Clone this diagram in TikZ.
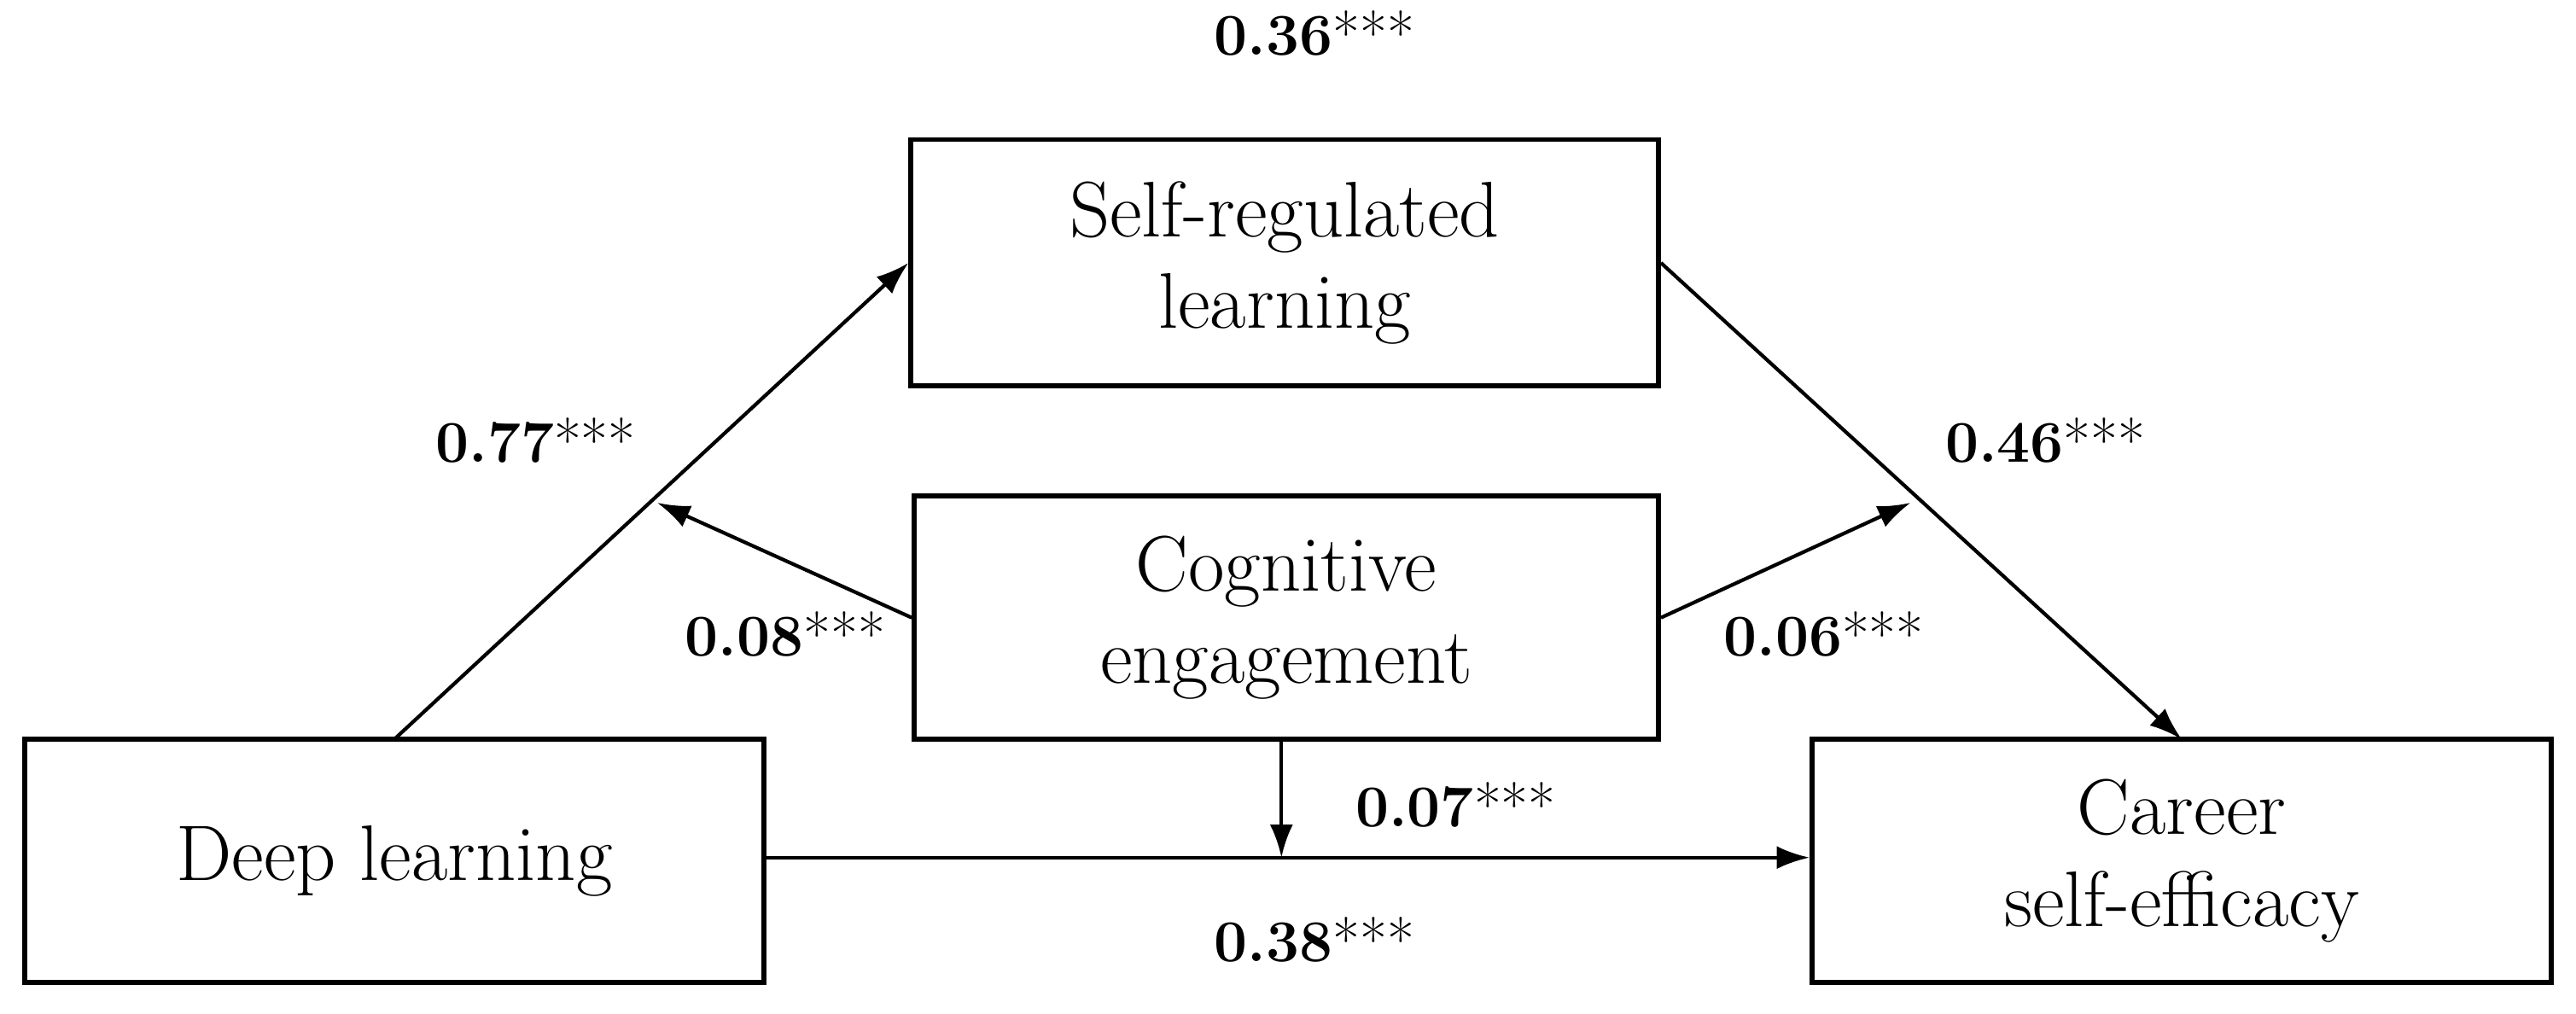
\documentclass[tikz,border=0pt]{standalone}
\usetikzlibrary{arrows.meta}
\begin{document}
\begin{tikzpicture}[x=1pt,y=-1pt,
  box/.style={draw,line width=3pt,align=center,inner sep=0pt,font=\fontsize{48}{56}\selectfont},
  lab/.style={font=\fontsize{36}{42}\selectfont},
  arr/.style={line width=2.2pt,-{Latex[length=20pt,width=14pt]}}]
\useasboundingbox (0,0) rectangle (1568,617);
\node[box,minimum width=450pt,minimum height=148pt] (dl) at (240,524) {Deep learning};
\node[box,minimum width=455pt,minimum height=150pt] (sr) at (782,160) {Self-regulated\\learning};
\node[box,minimum width=453pt,minimum height=148pt] (ce) at (783,376) {Cognitive\\engagement};
\node[box,minimum width=450pt,minimum height=148pt] (cs) at (1328,524) {Career\\self-efficacy};
\coordinate (dltop) at (240,450);
\coordinate (cstop) at (1328,450);
\coordinate (m1) at (400,306);
\coordinate (m2) at (1163,306);
\coordinate (m3) at (780,522);
\draw[arr] (dltop) -- (sr.west);
\draw[arr] (sr.east) -- (cstop);
\draw[arr] (dl.east |- m3) -- (cs.west |- m3);
\draw[arr] (ce.west) -- (m1);
\draw[arr] (ce.east) -- (m2);
\draw[arr] (m3 |- ce.south) -- (m3);
\node[lab] (l1) at (800,20) {\textbf{0.36}***};
\node[lab] (l2) at (326,268) {\textbf{0.77}***};
\node[lab] (l3) at (1245,268) {\textbf{0.46}***};
\node[lab] (l4) at (478,386) {\textbf{0.08}***};
\node[lab] (l5) at (1110,386) {\textbf{0.06}***};
\node[lab] (l6) at (886,490) {\textbf{0.07}***};
\node[lab] (l7) at (800,572) {\textbf{0.38}***};
\end{tikzpicture}
\end{document}
